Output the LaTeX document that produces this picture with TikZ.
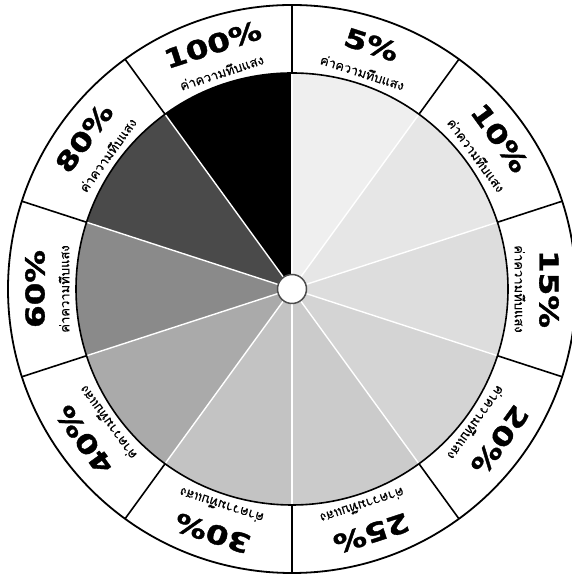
\documentclass[tikz,border=0pt]{standalone}
\usepackage{fontspec}
\newfontfamily\pctfont{DejaVu Sans Bold}[FakeBold=1.3]
\newfontfamily\thaifont[Script=Thai,FakeBold=0.4]{Loma}
\definecolor{g5}{HTML}{EFEFEF}
\definecolor{g10}{HTML}{E6E6E6}
\definecolor{g15}{HTML}{DDDDDD}
\definecolor{g20}{HTML}{D4D4D4}
\definecolor{g25}{HTML}{CBCBCB}
\definecolor{g30}{HTML}{C3C3C3}
\definecolor{g40}{HTML}{AAAAAA}
\definecolor{g60}{HTML}{8A8A8A}
\definecolor{g80}{HTML}{4A4A4A}
\definecolor{g100}{HTML}{000000}
\tikzset{
  pctlabel/.style={font=\pctfont\fontsize{26}{26}\selectfont, inner sep=0pt},
  thailabel/.style={font=\thaifont\fontsize{13}{13}\selectfont, inner sep=0pt},
  ringline/.style={line width=1.6pt, black},
  spoke/.style={white, line width=1.4pt}
}
\begin{document}
\begin{tikzpicture}
\useasboundingbox (0,0) rectangle (571pt,577pt);
\fill[white] (0,0) rectangle (571pt,577pt);
\coordinate (C) at (292pt,288pt);
% sectors
\foreach \col [count=\i from 0] in {g5,g10,g15,g20,g25,g30,g40,g60,g80,g100}{
  \pgfmathsetmacro{\a}{90-36*\i}
  \pgfmathsetmacro{\b}{\a-36}
  \fill[\col] (C) -- ([shift={(\a:216pt)}]C) arc[start angle=\a, end angle=\b, radius=216pt] -- cycle;
}
% spokes and ring dividers
\foreach \i in {0,...,9}{
  \pgfmathsetmacro{\a}{90-36*\i}
  \coordinate (s\i) at ([shift={(\a:216pt)}]C);
  \coordinate (o\i) at ([shift={(\a:284pt)}]C);
  \draw[spoke] (C) -- (s\i);
  \draw[ringline] (s\i) -- (o\i);
}
\draw[ringline] (C) circle (216pt);
\draw[ringline, line width=1.8pt] (C) circle (284pt);
\node[circle, fill=white, draw=black!70, line width=1.5pt, minimum size=29pt, inner sep=0pt] (hub) at (C) {};
% labels
\foreach \p [count=\i from 0] in {5,10,15,20,25,30,40,60,80,100}{
  \pgfmathsetmacro{\m}{72-36*\i}
  \pgfmathsetmacro{\r}{\m-90}
  \node[pctlabel, rotate=\r] (p\i) at ([shift={(\m:257pt)}]C) {\scalebox{1.25}[1]{\p\%}};
  \node[thailabel, rotate=\r] (t\i) at ([shift={(\m:228pt)}]C) {ค่าความทึบแสง};
}
\end{tikzpicture}
\end{document}
